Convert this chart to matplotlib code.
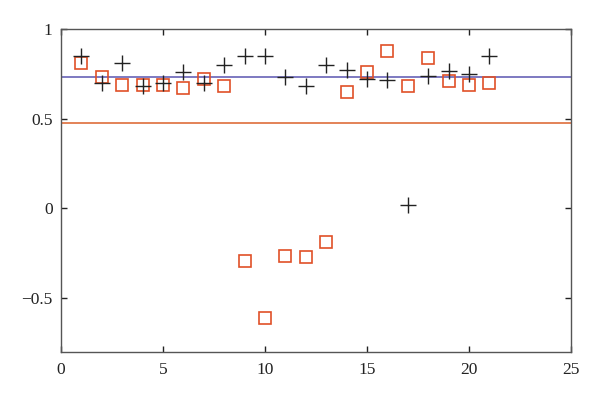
import matplotlib
matplotlib.use("Agg")
import matplotlib.pyplot as plt

x = list(range(1, 22))
cross_vals = [0.85, 0.70, 0.81, 0.68, 0.70, 0.76, 0.70, 0.80, 0.85, 0.85,
              0.73, 0.68, 0.80, 0.77, 0.72, 0.715, 0.018, 0.74, 0.763, 0.75, 0.85]
square_vals = [0.81, 0.73, 0.69, 0.69, 0.69, 0.67, 0.72, 0.68, -0.294, -0.613,
               -0.265, -0.274, -0.187, 0.646, 0.76, 0.876, 0.68, 0.837, 0.71, 0.69, 0.70]
blue_level = 0.73
orange_level = 0.478
xticks = [0, 5, 10, 15, 20, 25]
yticks = [-0.5, 0, 0.5, 1]
yticklabels = ["\u22120.5", "0", "0.5", "1"]

plt.rcParams['font.family'] = ['Liberation Serif', 'DejaVu Serif']
fig = plt.figure(figsize=(6.0, 3.95), dpi=100)
ax = fig.add_axes([0.1017, 0.1101, 0.85, 0.8165])

ax.axhline(blue_level, color='#5a55b0', lw=1.1, zorder=1)
ax.axhline(orange_level, color='#e0784a', lw=1.3, zorder=1)
ax.plot(x, cross_vals, linestyle='none', marker='+', markersize=12,
        markeredgewidth=1.0, color='#222222', zorder=3)
ax.plot(x, square_vals, linestyle='none', marker='s', markersize=8,
        markerfacecolor='none', markeredgewidth=1.2, markeredgecolor='#e05028', zorder=2)

ax.set_xlim(0, 25)
ax.set_ylim(-0.8, 1)
ax.set_xticks(xticks)
ax.set_yticks(yticks)
ax.set_yticklabels(yticklabels)
ax.tick_params(direction='in', top=True, right=True, length=4, width=1,
               labelsize=12.5, colors='#222222')
ax.tick_params(axis='x', pad=7.5)
ax.tick_params(axis='y', pad=6)
for s in ax.spines.values():
    s.set_color('#555555')
    s.set_linewidth(1.0)

fig.savefig('out.png', dpi=100)
